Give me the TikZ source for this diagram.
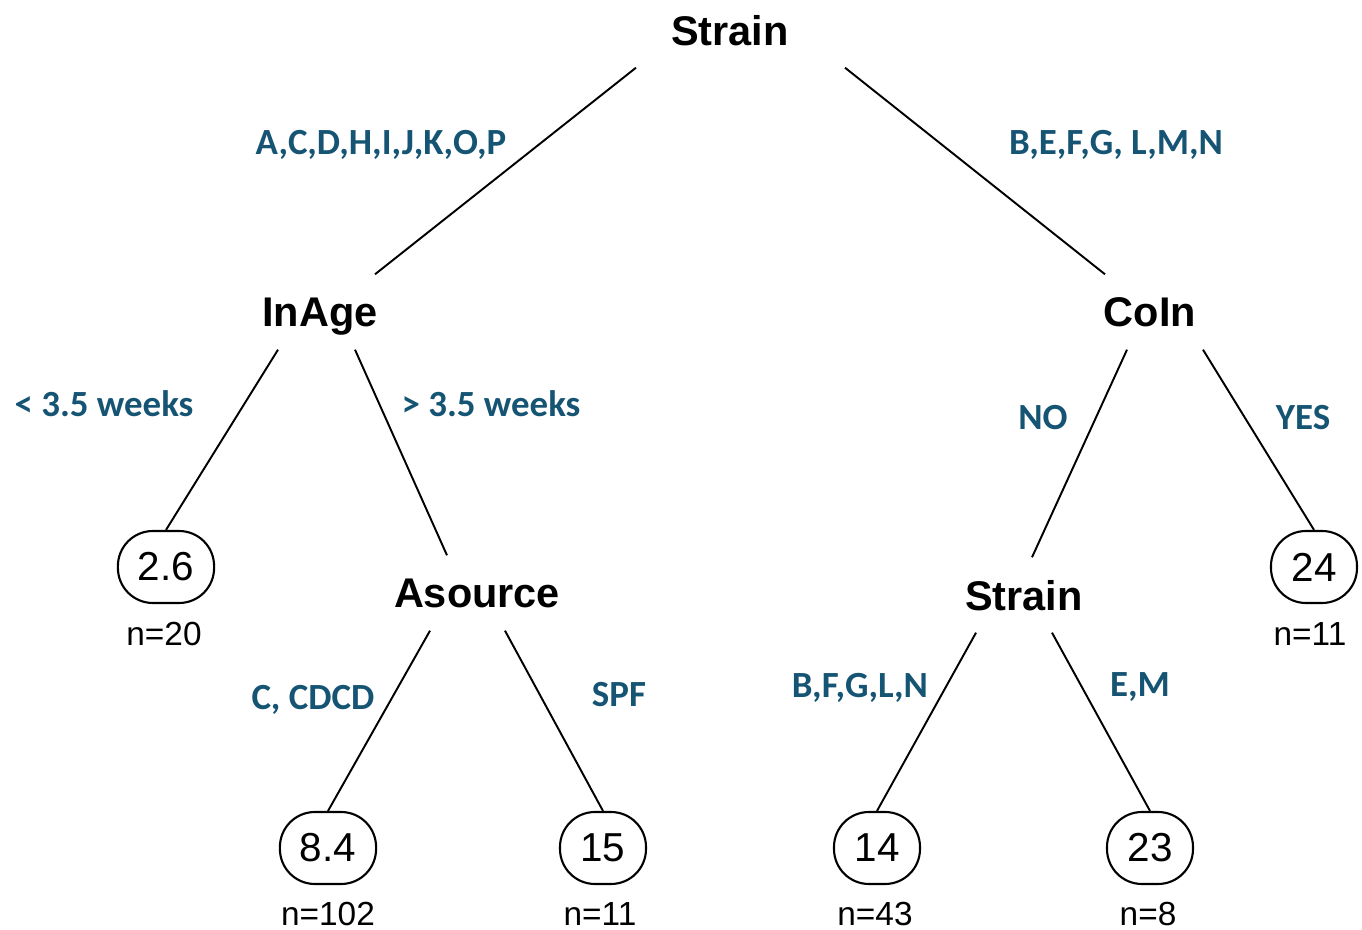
\documentclass[tikz,border=0pt]{standalone}
\usepackage{fontspec}
\setmainfont{Liberation Sans}
\newfontfamily\lblfont{Carlito}
\usepackage{tikz}
\usepackage{xcolor}
\definecolor{lblblue}{RGB}{22,84,116}

\begin{document}
\begin{tikzpicture}[
  split/.style={minimum width=1.2cm, minimum height=0.74cm, inner sep=0pt, text depth=0pt,
                font=\fontsize{11.8}{14}\selectfont\bfseries},
  leaf/.style={draw, line width=0.6pt, rounded corners=0.35cm, minimum width=0.86cm,
               minimum height=0.72cm, inner xsep=0.2cm, font=\fontsize{11.5}{13}\selectfont},
  count/.style={inner sep=0pt, font=\fontsize{9.5}{11}\selectfont},
  lbl/.style={text=lblblue, inner sep=0pt, text depth=0pt,
              font=\fontsize{10.5}{12}\selectfont\lblfont\bfseries},
  edge/.style={line width=0.55pt}
]
\useasboundingbox (0,0) rectangle (13.62,-9.30);

% splits
\node [split] (root) at (7.30,-0.30) {Strain};
\node [split] (inage) at (3.20,-3.12) {InAge};
\node [split] (coin) at (11.50,-3.12) {CoIn};
\node [split] (asrc) at (4.77,-5.93) {Asource};
\node [split] (strb) at (10.24,-5.95) {Strain};

% leaves
\node [leaf] (leafa) at (1.66,-5.67) {2.6};
\node [leaf] (leafd) at (13.14,-5.67) {24};
\node [leaf] (leafb) at (3.28,-8.48) {8.4};
\node [leaf] (leafc) at (6.03,-8.48) {15};
\node [leaf] (leafe) at (8.77,-8.48) {14};
\node [leaf] (leaff) at (11.50,-8.48) {23};

\node [count] (na) at (1.64,-6.34) {n=20};
\node [count] (nd) at (13.10,-6.34) {n=11};
\node [count] (nb) at (3.28,-9.14) {n=102};
\node [count] (nc) at (6.00,-9.14) {n=11};
\node [count] (ne) at (8.75,-9.14) {n=43};
\node [count] (nf) at (11.48,-9.14) {n=8};

% branches
\draw [edge] ([xshift=-0.94cm]root.south) -- ([xshift=0.55cm]inage.north);
\draw [edge] ([xshift=1.15cm]root.south) -- ([xshift=-0.45cm]coin.north);
\draw [edge] ([xshift=-0.42cm]inage.south) -- (leafa.north);
\draw [edge] ([xshift=0.35cm]inage.south) -- ([xshift=-0.30cm]asrc.north);
\draw [edge] ([xshift=-0.47cm]asrc.south) -- (leafb.north);
\draw [edge] ([xshift=0.28cm]asrc.south) -- (leafc.north);
\draw [edge] ([xshift=-0.23cm]coin.south) -- ([xshift=0.08cm]strb.north);
\draw [edge] ([xshift=0.53cm]coin.south) -- (leafd.north);
\draw [edge] ([xshift=-0.48cm]strb.south) -- (leafe.north);
\draw [edge] ([xshift=0.28cm]strb.south) -- (leaff.north);

% branch labels
\node [lbl] (la) at (3.81,-1.42) {A,C,D,H,I,J,K,O,P};
\node [lbl] (lb) at (11.16,-1.42) {B,E,F,G, L,M,N};
\node [lbl] (lc) at (1.04,-4.04) {< 3.5 weeks};
\node [lbl] (ld) at (4.91,-4.04) {> 3.5 weeks};
\node [lbl] (le) at (10.43,-4.17) {NO};
\node [lbl] (lf) at (13.03,-4.17) {YES};
\node [lbl] (lg) at (3.13,-6.97) {C, CDCD};
\node [lbl] (lh) at (6.19,-6.94) {SPF};
\node [lbl] (li) at (8.60,-6.85) {B,F,G,L,N};
\node [lbl] (lj) at (11.40,-6.85) {E,M};

\end{tikzpicture}
\end{document}
